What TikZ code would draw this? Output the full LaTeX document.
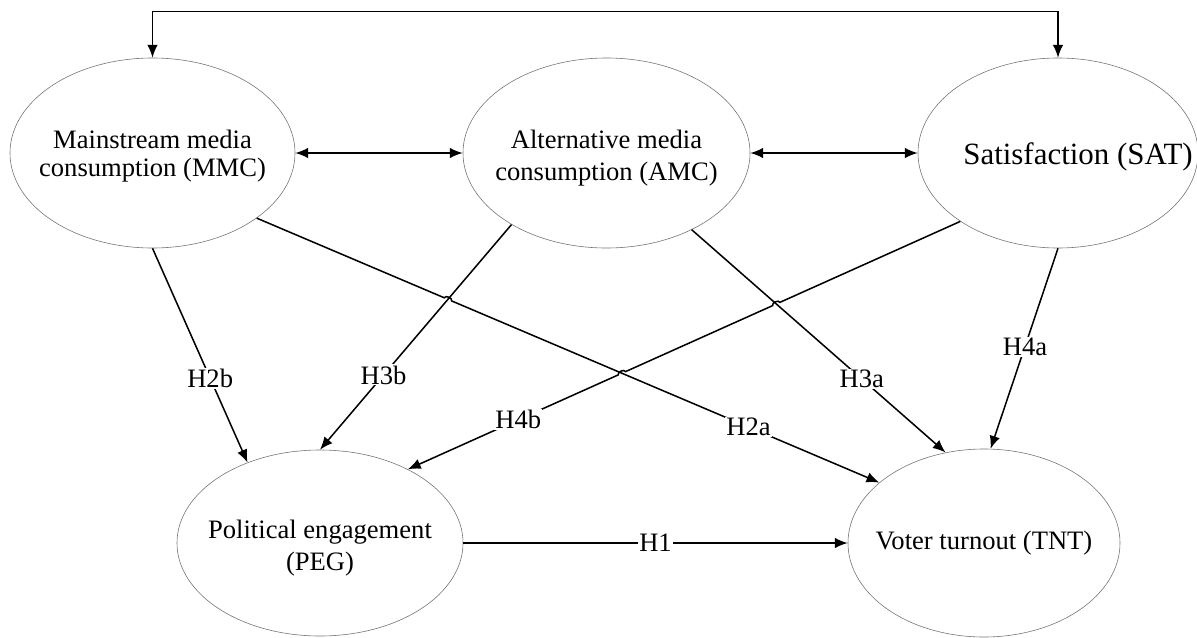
\documentclass[tikz,border=0pt]{standalone}
\usepackage{fontspec}
\setmainfont{Liberation Serif}
\usetikzlibrary{arrows.meta,shapes.geometric,calc,intersections}
\tikzset{
  txt/.style={align=center, font=\fontsize{22.7pt}{24pt}\selectfont},
  bigtxt/.style={align=center, font=\fontsize{26.4pt}{28pt}\selectfont},
  ell/.style={ellipse, draw=black!55, line width=0.5pt, inner sep=0pt},
  conn/.style={line width=1.3pt, -{Latex[length=11pt,width=9pt]}},
  dconn/.style={line width=1.3pt, {Latex[length=11pt,width=9pt]}-{Latex[length=11pt,width=9pt]}},
  lbl/.style={txt, fill=white, inner sep=1pt},
}
\begin{document}
\begin{tikzpicture}[x=0.03cm,y=-0.03cm]
\useasboundingbox (0,0) rectangle (1197,637);
% ellipses
\node[ell, minimum width=8.55cm, minimum height=5.7cm,
  label={[txt, yshift=-0.1cm]center:{Mainstream media\\consumption (MMC)}}] (MMC) at (152.5,153) {};
\node[ell, minimum width=8.61cm, minimum height=5.7cm,
  label={[txt, yshift=-0.15cm]center:{Alternative media\\[3pt]consumption (AMC)}}] (AMC) at (606.5,153) {};
\node[ell, minimum width=8.4cm, minimum height=5.7cm,
  label={[bigtxt, xshift=0.6cm, yshift=-0.12cm]center:{Satisfaction (SAT)}}] (SAT) at (1058,153) {};
\node[ell, minimum width=8.58cm, minimum height=5.58cm,
  label={[txt, yshift=-0.15cm]center:{Political engagement\\[4pt](PEG)}}] (PEG) at (320,543) {};
\node[ell, minimum width=8.16cm, minimum height=5.64cm,
  label={[txt]center:{Voter turnout (TNT)}}] (TNT) at (984,543) {};

% correlations
\draw[dconn] (MMC.north) -- ++(0,-46) -| (SAT.north);
\draw[dconn] (MMC.east) -- (AMC.west);
\draw[dconn] (AMC.east) -- (SAT.west);

% helper paths for crossings
\path[name path=h2a] (MMC.-32) -- (TNT.150);
\path[name path=h3b] (AMC.-143) -- (PEG.north);
\path[name path=h4b] (SAT.-145) -- (PEG.40);
\path[name path=h3a] (AMC.-42) -- (TNT.113);
\path[name intersections={of=h2a and h3b, by={x1}}];
\path[name intersections={of=h4b and h2a, by={x2}}];
\path[name intersections={of=h4b and h3a, by={x3}}];

% straight paths
\draw[conn] (MMC.south) -- (PEG.132) node[lbl, pos=0.607] {H2b};
\draw[conn] (AMC.-143) -- (PEG.north) node[lbl, pos=0.668] {H3b};
\draw[conn] (AMC.-42) -- (TNT.113) node[lbl, pos=0.67] {H3a};
\draw[conn] (SAT.south) -- (TNT.86) node[lbl, pos=0.49] {H4a};
\draw[conn] (PEG.east) -- (TNT.west) node[lbl, midway] {H1};

% paths with line jumps
\draw[conn] (MMC.-32) -- ($(x1)!0.12cm!(MMC.-32)$)
  to[bend left=90] ($(x1)!0.12cm!(TNT.150)$) -- (TNT.150);
\draw[conn] (SAT.-145) -- ($(x3)!0.12cm!(SAT.-145)$)
  to[bend right=90] ($(x3)!0.12cm!(PEG.40)$)
  -- ($(x2)!0.12cm!(SAT.-145)$)
  to[bend right=90] ($(x2)!0.12cm!(PEG.40)$) -- (PEG.40);
\path (MMC.-32) -- (TNT.150) node[lbl, pos=0.79] {H2a};
\path (SAT.-145) -- (PEG.40) node[lbl, pos=0.8] {H4b};
\end{tikzpicture}
\end{document}
